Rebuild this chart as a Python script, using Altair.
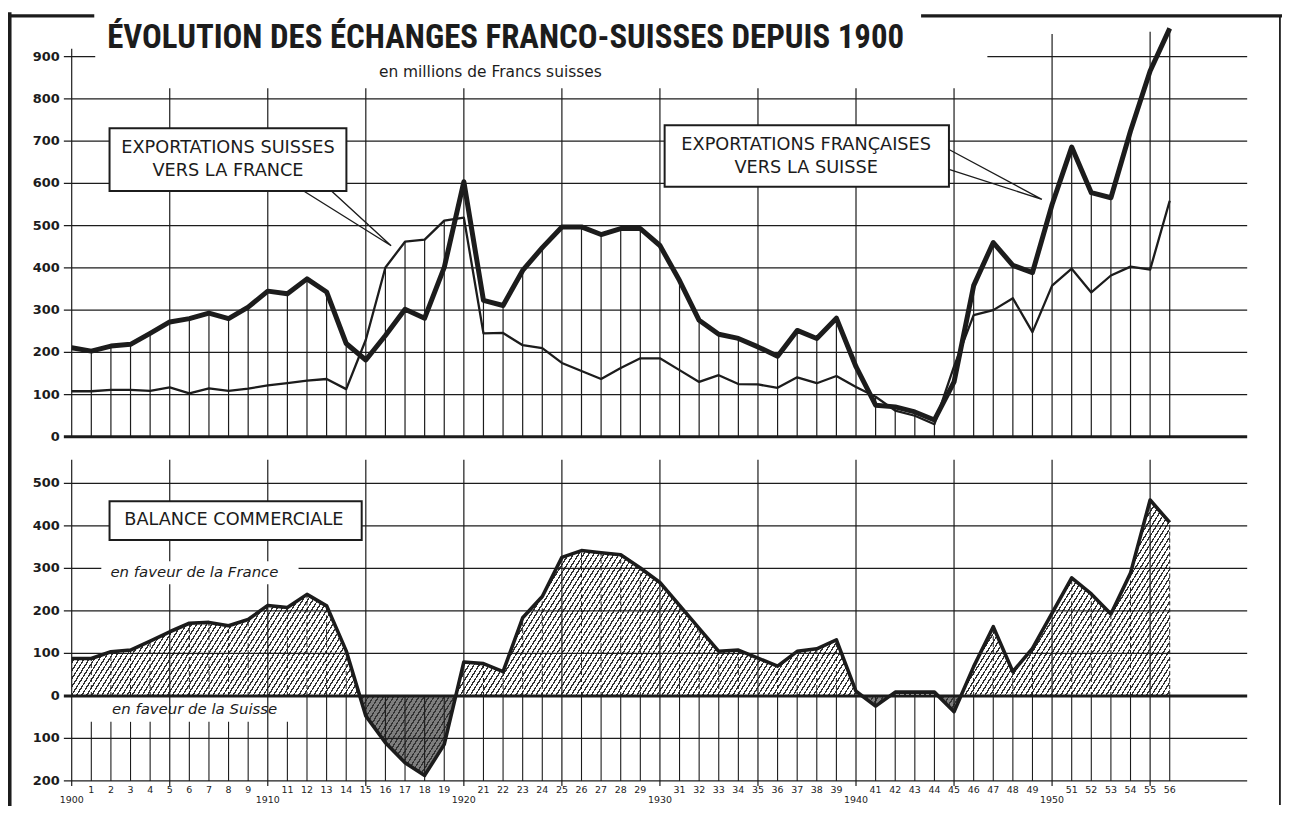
import math
import altair as alt
import pandas as pd

# ---------------- data ----------------
years = list(range(1900, 1957))

# Exportations françaises vers la Suisse (thick line), millions CHF
french_exports = [211, 203, 215, 219, 245, 272, 280, 293, 280, 307,
                  345, 339, 374, 343, 221, 182, 240, 302, 281, 401,
                  604, 323, 311, 394, 448, 497, 497, 479, 493, 493,
                  453, 370, 276, 243, 233, 213, 191, 252, 233, 281,
                  166, 75, 71, 59, 40, 130, 358, 460, 406, 389,
                  550, 686, 578, 566, 724, 866, 967]

# Exportations suisses vers la France (thin line)
swiss_exports = [108, 108, 111, 111, 109, 117, 103, 115, 109, 114,
                 122, 127, 133, 137, 113, 230, 401, 462, 467, 512,
                 519, 245, 246, 217, 210, 175, 156, 137, 163, 186,
                 186, 158, 130, 146, 125, 124, 116, 141, 127, 144,
                 118, 95, 62, 50, 30, 167, 288, 300, 328, 248,
                 358, 398, 342, 382, 403, 396, 559]

# Balance commerciale (+ en faveur de la France)
balance = [88, 88, 104, 108, 129, 151, 171, 173, 165, 180,
           213, 208, 239, 212, 106, -47, -110, -157, -187, -114,
           80, 76, 57, 184, 234, 326, 342, 337, 332, 301,
           267, 213, 159, 105, 108, 89, 70, 105, 111, 132,
           11, -24, 9, 9, 9, -37, 69, 163, 57, 112,
           195, 278, 240, 193, 289, 461, 408]

top_ticks = [0, 100, 200, 300, 400, 500, 600, 700, 800, 900]
top_tick_labels = ["0", "100", "200", "300", "400", "500", "600", "700", "800", "900"]
bottom_ticks = [500, 400, 300, 200, 100, 0, -100, -200]
bottom_tick_labels = ["500", "400", "300", "200", "100", "0", "100", "200"]
year_labels = ["1900", "1", "2", "3", "4", "5", "6", "7", "8", "9",
               "1910", "11", "12", "13", "14", "15", "16", "17", "18", "19",
               "1920", "21", "22", "23", "24", "25", "26", "27", "28", "29",
               "1930", "31", "32", "33", "34", "35", "36", "37", "38", "39",
               "1940", "41", "42", "43", "44", "45", "46", "47", "48", "49",
               "1950", "51", "52", "53", "54", "55", "56"]

TITLE = "ÉVOLUTION DES ÉCHANGES FRANCO-SUISSES DEPUIS 1900"
SUBTITLE = "en millions de Francs suisses"
LABEL_CH = ["EXPORTATIONS SUISSES", "VERS LA FRANCE"]
LABEL_FR = ["EXPORTATIONS FRANÇAISES", "VERS LA SUISSE"]
LABEL_BAL = "BALANCE COMMERCIALE"
LABEL_PLUS = "en faveur de la France"
LABEL_MINUS = "en faveur de la Suisse"

# ---------------- geometry / scales ----------------
W, H = 1280, 798
PXY = 19.7                      # pixels per year
X0 = 64                         # canvas x of year 1900
XDOM = [1900 - X0 / PXY, 1900 + (W - X0) / PXY]
T_ZERO, T_K = 429.0, 0.4244     # top panel
TDOM = [(T_ZERO - H) / T_K, T_ZERO / T_K]
B_ZERO, B_K = 689.3, 0.427      # bottom panel
BDOM = [(B_ZERO - H) / B_K, B_ZERO / B_K]

xs = alt.Scale(domain=XDOM, nice=False, zero=False)
ts = alt.Scale(domain=TDOM, nice=False, zero=False)
bs = alt.Scale(domain=BDOM, nice=False, zero=False)

INK = "#1c1c1c"
SANS = "DejaVu Sans"
TITLE_FONT = "Roboto Condensed, Roboto, sans-serif"


def X(f):
    return alt.X(f, type="quantitative", scale=xs, axis=None)


def X2(f):
    return alt.X2(f)


def YT(f):
    return alt.Y(f, type="quantitative", scale=ts, axis=None)


def YB(f):
    return alt.Y(f, type="quantitative", scale=bs, axis=None)


def Y2(f):
    return alt.Y2(f)


SIZE = alt.Size("w:Q", scale=None, legend=None)

df = pd.DataFrame({"year": years, "fr": french_exports, "ch": swiss_exports, "bal": balance})

GRID_X0, GRID_X1 = 1899.6, 1959.95

# ---------------- frame ----------------
frame_top = 996.7
frame = pd.DataFrame([
    {"x0": XDOM[0] + 0.01, "x1": 1901.07, "y0": frame_top, "y1": frame_top, "w": 3.2},
    {"x0": 1943.40, "x1": 1961.68, "y0": frame_top, "y1": frame_top, "w": 3.2},
    {"x0": 1896.84, "x1": 1896.84, "y0": frame_top + 4, "y1": TDOM[0], "w": 3.6},
    {"x0": 1961.62, "x1": 1961.62, "y0": frame_top, "y1": TDOM[0], "w": 1.8},
])
frame_layer = alt.Chart(frame).mark_rule(color=INK, strokeCap="square").encode(
    x=X("x0"), x2=X2("x1"), y=YT("y0"), y2=Y2("y1"), size=SIZE)

# ---------------- top panel ----------------
tg_rows = []
for v in top_ticks:
    w = 3.0 if v == 0 else 1.3
    if v == 900:
        tg_rows.append({"x0": GRID_X0, "x1": 1901.2, "v": v, "w": w})
        tg_rows.append({"x0": 1946.7, "x1": GRID_X1, "v": v, "w": w})
    else:
        tg_rows.append({"x0": GRID_X0, "x1": GRID_X1, "v": v, "w": w})
top_grid = alt.Chart(pd.DataFrame(tg_rows)).mark_rule(color=INK).encode(
    x=X("x0"), x2=X2("x1"), y=YT("v"), size=SIZE)

tall_top = {1900: 919, 1950: 954, 1955: 959}
tv_rows = []
for yr, f, c in zip(years, french_exports, swiss_exports):
    if yr % 5 == 0:
        top = tall_top.get(yr, 825)
    else:
        top = max(f, c)
    tv_rows.append({"year": yr, "y0": 0, "y1": top})
top_vert = alt.Chart(pd.DataFrame(tv_rows)).mark_rule(color=INK, strokeWidth=1.2).encode(
    x=X("year"), y=YT("y0"), y2=Y2("y1"))

boxes_top = pd.DataFrame([
    {"x0": 1901.93, "x1": 1914.01, "y0": 582.0, "y1": 730.4},
    {"x0": 1930.24, "x1": 1944.74, "y0": 592.1, "y1": 737.5},
])
top_boxes = alt.Chart(boxes_top).mark_rect(fill="white", stroke=INK, strokeWidth=2).encode(
    x=X("x0"), x2=X2("x1"), y=YT("y0"), y2=Y2("y1"))

tails = pd.DataFrame([
    {"id": "ch", "o": 0, "x": 1911.83, "y": 582.0},
    {"id": "ch", "o": 1, "x": 1916.29, "y": 452.4},
    {"id": "ch", "o": 2, "x": 1913.25, "y": 582.0},
    {"id": "fr", "o": 0, "x": 1944.74, "y": 680.3},
    {"id": "fr", "o": 1, "x": 1949.48, "y": 562.4},
    {"id": "fr", "o": 2, "x": 1944.74, "y": 633.2},
])
tail_layer = alt.Chart(tails).mark_line(color=INK, strokeWidth=1.4).encode(
    x=X("x"), y=YT("y"), detail="id:N", order="o:Q")

line_ch = alt.Chart(df).mark_line(color=INK, strokeWidth=2.3, strokeJoin="round").encode(
    x=X("year"), y=YT("ch"))
line_fr = alt.Chart(df).mark_line(color=INK, strokeWidth=5, strokeJoin="round").encode(
    x=X("year"), y=YT("fr"))

box_text_top = pd.DataFrame([
    {"x": 1907.97, "y": 684.0, "t": LABEL_CH[0]},
    {"x": 1907.97, "y": 629.1, "t": LABEL_CH[1]},
    {"x": 1937.46, "y": 690.4, "t": LABEL_FR[0]},
    {"x": 1937.46, "y": 636.9, "t": LABEL_FR[1]},
])
top_box_text = alt.Chart(box_text_top).mark_text(
    font=SANS, fontSize=17.8, color=INK, align="center", baseline="middle").encode(
    x=X("x"), y=YT("y"), text="t:N")

top_labels = alt.Chart(pd.DataFrame({"v": top_ticks, "t": top_tick_labels, "x": 1899.39})).mark_text(
    font=SANS, fontSize=13, fontWeight="bold", color=INK, align="right", baseline="middle").encode(
    x=X("x"), y=YT("v"), text="t:N")

subtitle = alt.Chart(pd.DataFrame({"x": [1921.35], "y": [863.1], "t": [SUBTITLE]})).mark_text(
    font=SANS, fontSize=15.5, color=INK, align="center", baseline="middle").encode(
    x=X("x"), y=YT("y"), text="t:N")

title = alt.Chart(pd.DataFrame({"x": [1922.13], "y": [919.5], "t": [TITLE]})).mark_text(
    font=TITLE_FONT, fontSize=33, fontWeight="bold", color=INK, align="center",
    baseline="alphabetic").encode(x=X("x"), y=YT("y"), text="t:N")

# ---------------- bottom panel ----------------
bmax, bmin = max(balance), min(balance)
z = bmax / (bmax - bmin)
split_fill = {"gradient": "linear", "x1": 0, "y1": 0, "x2": 0, "y2": 1,
              "stops": [{"offset": 0, "color": "white"}, {"offset": z, "color": "white"},
                        {"offset": z, "color": "#7e7e7e"}, {"offset": 1, "color": "#7e7e7e"}]}


def stripe_fill(wpx, hpx, angle, period, frac, color):
    r = hpx / (wpx * math.tan(math.radians(angle)))
    s = (1 + r) / (1 + r * r)
    rate = math.sqrt(1 / wpx ** 2 + (r / hpx) ** 2) / (s * (1 + r * r))
    dt = period * rate
    stops = []
    a = 0.0
    while a < 1:
        b = min(a + frac * dt, 1)
        e = min(a + dt, 1)
        stops += [{"offset": round(a, 5), "color": color},
                  {"offset": round(b, 5), "color": color},
                  {"offset": round(b, 5), "color": "transparent"},
                  {"offset": round(e, 5), "color": "transparent"}]
        a += dt
    return {"gradient": "linear", "x1": 0, "y1": 0, "x2": s, "y2": s * r, "stops": stops}


area_w = (years[-1] - years[0]) * PXY
area_h = (bmax - bmin) * B_K
hatch = stripe_fill(area_w, area_h, 58, 4.3, 0.3, "#333333")

area_base = alt.Chart(df).mark_area(fill=split_fill, strokeWidth=0).encode(
    x=X("year"), y=YB("bal"), y2=alt.Y2(datum=0))
area_hatch = alt.Chart(df).mark_area(fill=hatch, strokeWidth=0).encode(
    x=X("year"), y=YB("bal"), y2=alt.Y2(datum=0))

bg_rows = [{"x0": GRID_X0, "x1": GRID_X1, "v": v, "w": 3.0 if v == 0 else 1.3} for v in bottom_ticks]
bot_grid = alt.Chart(pd.DataFrame(bg_rows)).mark_rule(color=INK).encode(
    x=X("x0"), x2=X2("x1"), y=YB("v"), size=SIZE)

full_rows, dash_rows, low_rows = [], [], []
for yr, b in zip(years, balance):
    if yr % 5 == 0:
        full_rows.append({"year": yr, "y0": -212, "y1": 556})
    else:
        if b > 0:
            dash_rows.append({"year": yr, "y0": 0, "y1": b})
        low_rows.append({"year": yr, "y0": -200, "y1": -61 if yr < 1912 else 0})
bot_full = alt.Chart(pd.DataFrame(full_rows)).mark_rule(color=INK, strokeWidth=1.2).encode(
    x=X("year"), y=YB("y0"), y2=Y2("y1"))
bot_dash = alt.Chart(pd.DataFrame(dash_rows)).mark_rule(color=INK, strokeWidth=1.0, strokeDash=[4, 3]).encode(
    x=X("year"), y=YB("y0"), y2=Y2("y1"))
bot_low = alt.Chart(pd.DataFrame(low_rows)).mark_rule(color=INK, strokeWidth=1.1).encode(
    x=X("year"), y=YB("y0"), y2=Y2("y1"))

plus_bg = alt.Chart(pd.DataFrame([{"x0": 1901.51, "x1": 1911.57, "y0": 263, "y1": 317}])).mark_rect(
    fill="white").encode(x=X("x0"), x2=X2("x1"), y=YB("y0"), y2=Y2("y1"))

bal_box = alt.Chart(pd.DataFrame([{"x0": 1901.93, "x1": 1914.79, "y0": 366.7, "y1": 458.1}])).mark_rect(
    fill="white", stroke=INK, strokeWidth=2).encode(x=X("x0"), x2=X2("x1"), y=YB("y0"), y2=Y2("y1"))
bal_text = alt.Chart(pd.DataFrame([{"x": 1908.27, "y": 412.9, "t": LABEL_BAL}])).mark_text(
    font=SANS, fontSize=17.8, color=INK, align="center", baseline="middle").encode(
    x=X("x"), y=YB("y"), text="t:N")

fav_text = alt.Chart(pd.DataFrame([
    {"x": 1906.26, "y": 291.8, "t": LABEL_PLUS},
    {"x": 1906.27, "y": -29.7, "t": LABEL_MINUS},
])).mark_text(font=SANS, fontSize=15, fontStyle="italic", color=INK, align="center",
              baseline="middle").encode(x=X("x"), y=YB("y"), text="t:N")

outline = alt.Chart(df).mark_line(color=INK, strokeWidth=3.6, strokeJoin="round").encode(
    x=X("year"), y=YB("bal"))

bot_labels = alt.Chart(pd.DataFrame({"v": bottom_ticks, "t": bottom_tick_labels, "x": 1899.39})).mark_text(
    font=SANS, fontSize=13, fontWeight="bold", color=INK, align="right", baseline="middle").encode(
    x=X("x"), y=YB("v"), text="t:N")

yl = pd.DataFrame({"year": years, "t": year_labels})
yl["y"] = [-246 if y % 10 == 0 else -221 for y in years]
year_text = alt.Chart(yl).mark_text(font=SANS, fontSize=9.5, color=INK, align="center",
                                    baseline="middle").encode(x=X("year"), y=YB("y"), text="t:N")

chart = alt.layer(
    frame_layer,
    top_grid, top_vert, top_boxes, tail_layer, line_ch, line_fr, top_box_text,
    top_labels, subtitle, title,
    area_base, area_hatch, bot_grid, bot_full, bot_dash, bot_low, plus_bg,
    bal_box, bal_text, fav_text, outline, bot_labels, year_text,
).resolve_scale(y="independent").properties(
    width=W, height=H, autosize=alt.AutoSizeParams(type="none"), padding=0,
    background="white",
).configure_view(stroke=None)

chart.save("out.html", embed_options={"renderer": "svg", "actions": False})
